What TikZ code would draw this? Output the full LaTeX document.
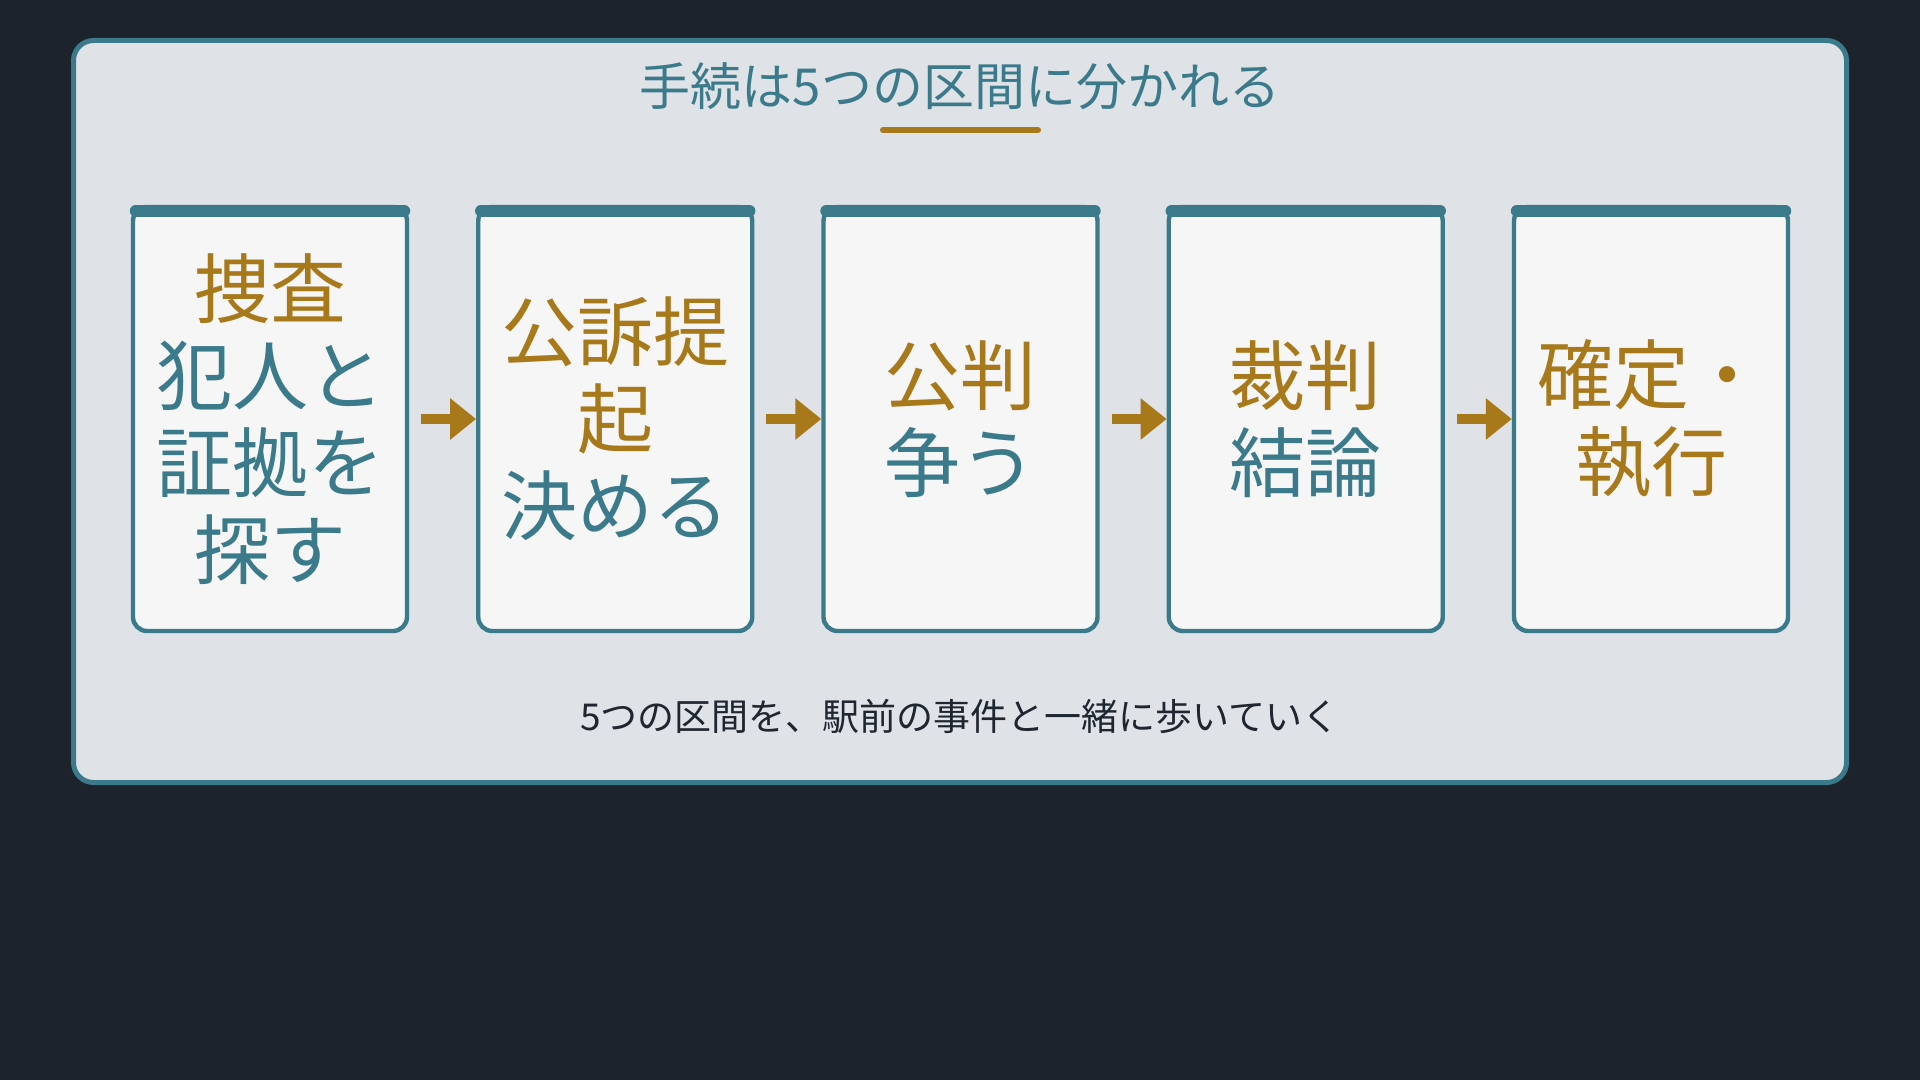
\documentclass[tikz,border=0pt]{standalone}
\usepackage{fontspec}
\setmainfont{Noto Sans CJK JP}
\usetikzlibrary{arrows.meta}
\definecolor{bgdark}{HTML}{1C232D}
\definecolor{panelgray}{HTML}{DFE2E6}
\definecolor{cardwhite}{HTML}{F6F6F6}
\definecolor{tealc}{HTML}{3B7A8B}
\definecolor{goldc}{HTML}{A8791A}
\definecolor{inkc}{HTML}{1E2630}
\tikzset{
  card/.style={draw=tealc, fill=cardwhite, line width=2.2pt, rounded corners=7pt,
    minimum width=137pt, minimum height=212pt, inner sep=0pt, align=center,
    text=tealc, font=\fontsize{38}{43.5}\selectfont},
  cardbar/.style={draw=tealc, line width=6pt, line cap=round},
  flow/.style={draw=goldc, line width=5pt, -{Triangle[length=13pt,width=20pt]}, shorten <=6pt},
}
\begin{document}
\begin{tikzpicture}[x=0.5pt, y=-0.5pt]
      \fill[bgdark] (0,0) rectangle (1920,1080);
      \draw[tealc, fill=panelgray, line width=2.5pt, rounded corners=10pt]
        (73.5,40.5) rectangle (1846.5,782.5);
      \draw
        (960,86) node[text=tealc, font=\fontsize{25.5}{30}\selectfont] (title){手続は5つの区間に分かれる}
        (960,716) node[text=inkc, font=\fontsize{18.5}{22}\selectfont] (foot){5つの区間を、駅前の事件と一緒に歩いていく};
      \draw[goldc, line width=3pt, line cap=round] (883,130) -- (1038,130);
      \draw
        (270,419) node[card] (0){\textcolor{goldc}{捜査}\\犯人と\\証拠を\\探す}
        (615.25,419) node[card] (1){\textcolor{goldc}{公訴提}\\\textcolor{goldc}{起}\\決める}
        (960.5,419) node[card] (2){\textcolor{goldc}{公判}\\争う}
        (1305.75,419) node[card] (3){\textcolor{goldc}{裁判}\\結論}
        (1651,419) node[card] (4){\textcolor{goldc}{確定・}\\\textcolor{goldc}{執行}};
      \begin{scope}[cardbar]
        \draw ([shift={(2.5pt,-3pt)}]0.north west) -- ([shift={(-2.5pt,-3pt)}]0.north east);
        \draw ([shift={(2.5pt,-3pt)}]1.north west) -- ([shift={(-2.5pt,-3pt)}]1.north east);
        \draw ([shift={(2.5pt,-3pt)}]2.north west) -- ([shift={(-2.5pt,-3pt)}]2.north east);
        \draw ([shift={(2.5pt,-3pt)}]3.north west) -- ([shift={(-2.5pt,-3pt)}]3.north east);
        \draw ([shift={(2.5pt,-3pt)}]4.north west) -- ([shift={(-2.5pt,-3pt)}]4.north east);
      \end{scope}
      \begin{scope}[flow]
        \draw (0.east) to (1.west);
        \draw (1.east) to (2.west);
        \draw (2.east) to (3.west);
        \draw (3.east) to (4.west);
      \end{scope}
    \end{tikzpicture}
\end{document}
